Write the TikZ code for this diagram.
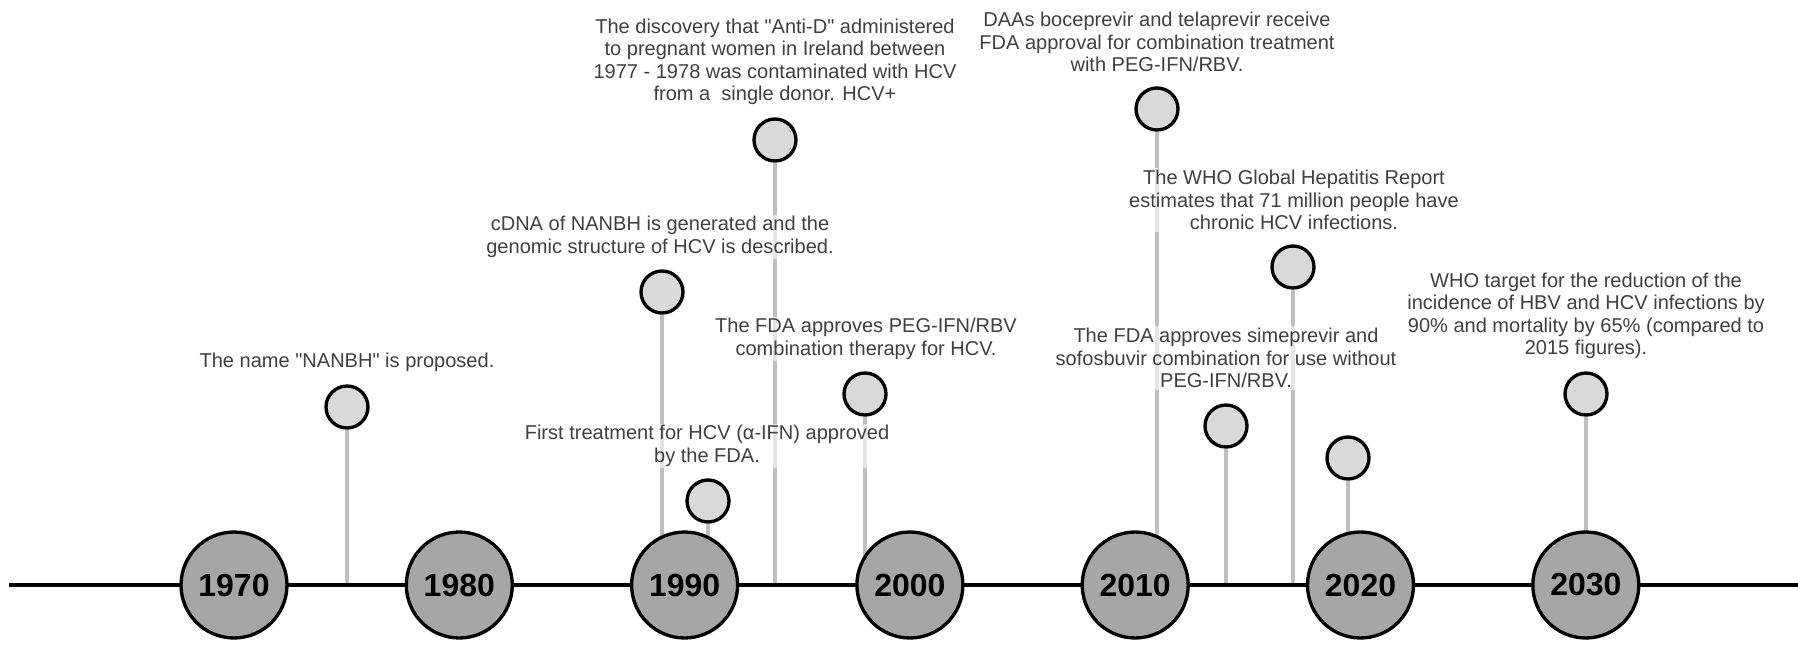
\documentclass[tikz,border=0pt]{standalone}
\usepackage{fontspec}
\setmainfont{Liberation Sans}[Ligatures=TeXOff]
\usepackage{xcolor}
\usetikzlibrary{backgrounds}

\definecolor{txtgray}{HTML}{404040}
\definecolor{stemgray}{HTML}{BFBFBF}
\definecolor{dotgray}{HTML}{D9D9D9}
\definecolor{yeargray}{HTML}{A6A6A6}

\begin{document}
\begin{tikzpicture}[x=0.02cm, y=-0.02cm,
    year/.style={circle, draw=black, line width=1.9pt, fill=yeargray, minimum size=2.12cm, inner sep=0pt, font=\fontsize{18.2}{20}\selectfont\bfseries},
    dot/.style={circle, draw=black, line width=1.9pt, fill=dotgray, minimum size=0.84cm, inner sep=0pt},
    stem/.style={draw=stemgray, line width=1.9pt},
    event/.style={align=center, text=txtgray, font=\fontsize{11.4}{12.8}\selectfont, fill=white, fill opacity=0.6, text opacity=1, inner sep=1pt}]
            \useasboundingbox (0,0) rectangle (1798,645);

            \coordinate (left) at (9,585);
            \coordinate (right) at (1798,585);
            \draw[line width=2.8pt] (left) -- (right);

            \foreach \yr [count=\i from 0] in {1970,1980,...,2030}
                \node[year] (y\yr) at (234+225.3*\i,585) {\yr};

            \node[dot] (nanbh) at (347,407) {};
            \node[dot] (cdna) at (662,292) {};
            \node[dot] (ifn) at (708,501) {};
            \node[dot] (antid) at (775,140) {};
            \node[dot] (pegifn) at (865,394) {};
            \node[dot] (daas) at (1157,109) {};
            \node[dot] (simep) at (1226,426) {};
            \node[dot] (whorep) at (1293,267) {};
            \node[dot] (dot2020) at (1348,458) {};
            \node[dot] (whotarget) at (1586,394) {};

            \begin{pgfonlayer}{background}
                \draw[stem] (nanbh) -- (nanbh |- left);
                \draw[stem] (cdna) -- (cdna |- y1990);
                \draw[stem] (ifn) -- (ifn |- y1990);
                \draw[stem] (antid) -- (antid |- left);
                \draw[stem] (pegifn) -- (pegifn |- y2000);
                \draw[stem] (daas) -- (daas |- y2010);
                \draw[stem] (simep) -- (simep |- left);
                \draw[stem] (whorep) -- (whorep |- left);
                \draw[stem] (dot2020) -- (dot2020 |- y2020);
                \draw[stem] (whotarget) -- (whotarget |- y2030);
            \end{pgfonlayer}

            \node[event] (tnanbh) at (347,362) {The name "NANBH" is proposed.};
            \node[event] (tcdna) at (660,237) {cDNA of NANBH is generated and the\\genomic structure of HCV is described.};
            \node[event] (tifn) at (707,446) {First treatment for HCV (α-IFN) approved\\by the FDA.};
            \node[event] (tantid) at (775,62) {The discovery that "Anti-D" administered\\to pregnant women in Ireland between\\1977 - 1978 was contaminated with HCV\\from a\ \ single donor. HCV+};
            \node[event] (tpegifn) at (866,339) {The FDA approves PEG-IFN/RBV\\combination therapy for HCV.};
            \node[event] (tdaas) at (1157,42) {DAAs boceprevir and telaprevir receive\\FDA approval for combination treatment\\with PEG-IFN/RBV.};
            \node[event] (tsimep) at (1226,358) {The FDA approves simeprevir and\\sofosbuvir combination for use without\\PEG-IFN/RBV.};
            \node[event] (twhorep) at (1294,200) {The WHO Global Hepatitis Report\\estimates that 71 million people have\\chronic HCV infections.};
            \node[event] (twhotarget) at (1586,316) {WHO target for the reduction of the\\incidence of HBV and HCV infections by\\90\% and mortality by 65\% (compared to\\2015 figures).};
        \end{tikzpicture}
\end{document}
